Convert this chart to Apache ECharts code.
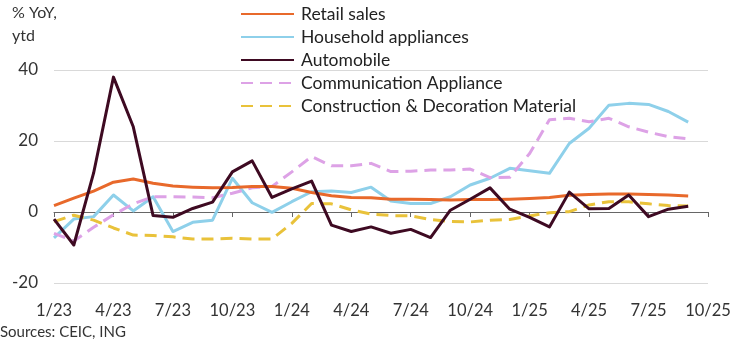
<!DOCTYPE html>
<html><head><meta charset="utf-8">
<script src="https://cdn.jsdelivr.net/npm/echarts@6/dist/echarts.min.js"></script>
<style>html,body{margin:0;padding:0;background:#fff}#c{width:744px;height:343px}</style>
</head><body><div id="c"></div>
<script>
const categories = ["1/23","2/23","3/23","4/23","5/23","6/23","7/23","8/23","9/23","10/23","11/23","12/23",
"1/24","2/24","3/24","4/24","5/24","6/24","7/24","8/24","9/24","10/24","11/24","12/24",
"1/25","2/25","3/25","4/25","5/25","6/25","7/25","8/25","9/25","10/25"];
const retailSales = [1.8,3.9,5.9,8.4,9.3,8.1,7.3,7.0,6.8,6.9,7.2,7.2,6.7,5.5,4.6,4.1,4.0,3.6,3.6,3.5,3.4,3.5,3.5,3.6,3.8,4.1,4.7,4.9,5.1,5.1,4.9,4.8,4.5];
const householdAppliances = [-7.3,-2.0,-1.3,4.8,0.3,4.3,-5.5,-2.9,-2.3,9.5,2.6,-0.1,2.9,5.7,5.9,5.5,7.0,3.1,2.4,2.4,4.3,7.6,9.5,12.3,11.6,10.9,19.3,23.6,30.1,30.6,30.3,28.3,25.3];
const automobile = [-2.0,-9.3,11.0,38.0,24.0,-1.0,-1.5,1.0,2.8,11.3,14.4,4.1,6.5,8.7,-3.7,-5.5,-4.2,-6.0,-4.9,-7.2,0.5,3.6,6.8,0.8,-1.5,-4.2,5.6,0.9,1.0,4.8,-1.3,0.8,1.6];
const communicationAppliance = [-6.0,-8.2,-4.3,-0.8,2.3,4.3,4.3,4.2,4.0,5.3,6.8,7.2,11.3,15.6,13.0,13.0,13.7,11.4,11.5,11.8,11.8,12.1,9.7,9.8,16.5,26.0,26.4,25.4,26.4,24.0,22.5,21.2,20.6];
const constructionDecoration = [-2.7,-0.9,-2.3,-4.5,-6.5,-6.6,-7.0,-7.6,-7.6,-7.4,-7.6,-7.6,-3.2,2.4,2.3,0.6,-0.6,-1.0,-1.1,-2.1,-2.7,-2.8,-2.3,-2.1,-1.1,-0.2,0.1,2.0,2.9,2.9,2.3,1.8,1.7];
const yTicks = [-20, 0, 20, 40];

const FONT = 'Lato';
const chart = echarts.init(document.getElementById('c'), null, {renderer: 'canvas'});
const mk = (name, data, color, dashed, z) => ({
  name, type: 'line', data, symbol: 'none', showSymbol: false, smooth: false, z: z,
  xAxisIndex: 0,
  lineStyle: {color, width: 3, type: dashed ? [12, 7] : 'solid', cap: 'butt', join: 'round'},
  itemStyle: {color}
});
chart.setOption({
  animation: false,
  textStyle: {fontFamily: FONT},
  grid: {left: 54, right: 36, top: 70, bottom: 60},
  graphic: [
    {type: 'text', left: 12, top: 5, style: {text: '% YoY,', font: '16px ' + FONT, fill: '#333'}},
    {type: 'text', left: 12, top: 28, style: {text: 'ytd', font: '16px ' + FONT, fill: '#333'}},
    {type: 'text', left: 0, top: 325, style: {text: 'Sources: CEIC, ING', font: '15px ' + FONT, fill: '#333'}}
  ],
  legend: {
    orient: 'vertical', left: 240, top: 4, padding: 0, itemWidth: 53, itemHeight: 14, itemGap: 3,
    itemStyle: {opacity: 0},
    textStyle: {fontSize: 17.5, color: '#222', fontFamily: FONT, padding: [0,0,0,2], lineHeight: 20},
    data: ['Retail sales','Household appliances','Automobile','Communication Appliance','Construction & Decoration Material']
  },
  xAxis: [
    {type: 'category', data: categories, boundaryGap: false, position: 'bottom',
     axisLine: {show: false, onZero: false}, axisTick: {show: false},
     axisLabel: {interval: 2, margin: 19, fontSize: 16.5, color: '#333', fontFamily: FONT},
     splitLine: {show: false}},
    {type: 'category', data: categories, boundaryGap: false, position: 'bottom',
     axisLine: {show: true, onZero: true, lineStyle: {color: '#666', width: 1}},
     axisTick: {show: true, interval: 2, length: 5, lineStyle: {color: '#666'}},
     axisLabel: {show: false}, splitLine: {show: false}}
  ],
  yAxis: {
    type: 'value', min: yTicks[0], max: yTicks[yTicks.length - 1], interval: 20,
    axisLine: {show: false}, axisTick: {show: false},
    axisLabel: {fontSize: 17, color: '#333', margin: 16, fontFamily: FONT},
    splitLine: {lineStyle: {color: '#d9d9d9', width: 1}}
  },
  series: [
    mk('Retail sales', retailSales, '#E8692B', false, 3),
    mk('Household appliances', householdAppliances, '#8ED0EA', false, 2),
    mk('Automobile', automobile, '#3E0A22', false, 5),
    mk('Communication Appliance', communicationAppliance, '#DDA2E6', true, 2),
    mk('Construction & Decoration Material', constructionDecoration, '#E9C23A', true, 2)
  ]
});
</script></body></html>
